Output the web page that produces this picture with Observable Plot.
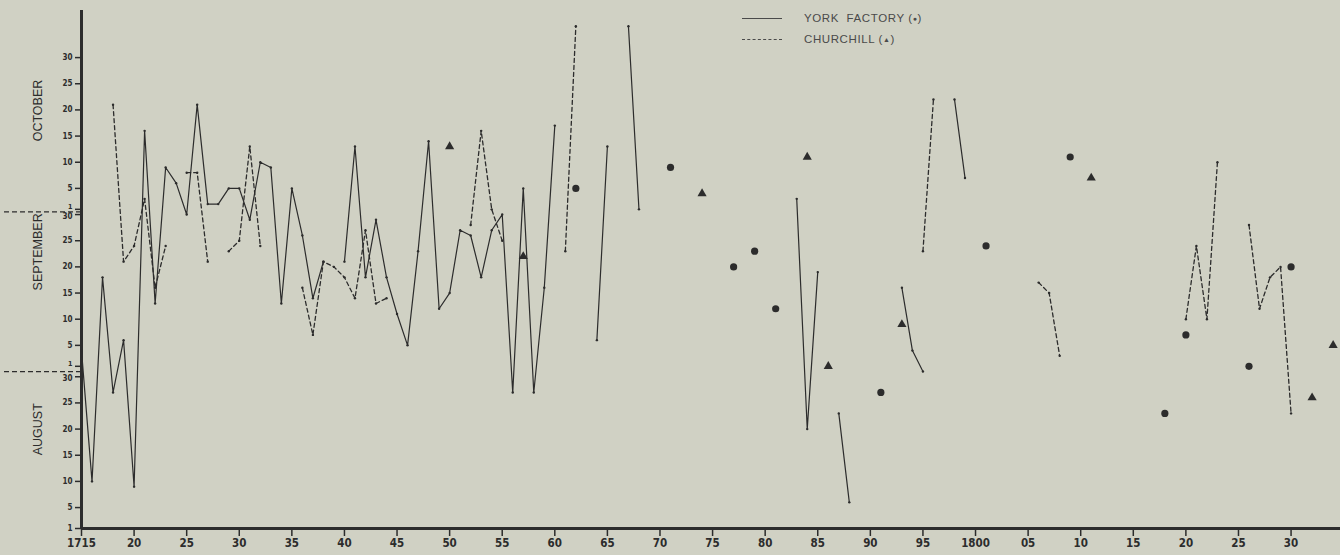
<!DOCTYPE html>
<html>
<head>
<meta charset="utf-8">
<script src="https://cdn.jsdelivr.net/npm/d3@7"></script>
<script src="https://cdn.jsdelivr.net/npm/@observablehq/plot@0.6"></script>
<style>
  html, body { margin: 0; padding: 0; background: #d0d1c4; }
  #wrap { position: relative; width: 1340px; height: 555px; overflow: hidden; }
  .lg-line { position: absolute; left: 742px; width: 40px; height: 0; border-top: 1.2px solid #4a4a4a; }
  .lg-line.dash { border-top-style: dashed; }
  .lg-text { position: absolute; left: 804px; font-family: "Liberation Sans", Arial, sans-serif; font-size: 11.5px;
             letter-spacing: 0.6px; color: #4a4a4a; line-height: 14px; white-space: pre; }
  .lg-text .sym { font-size: 7px; vertical-align: 1px; }
</style>
</head>
<body>
<div id="wrap"></div>
<script>
// Freeze-up / departure dates: day index counted from 1 August (1 = Aug 1, 32 = Sept 1, 62 = Oct 1)
const yorkFactory = [
  [1715,35],[1716,10],[1717,49],[1718,27],[1719,37],[1720,9],[1721,77],[1722,44],[1723,70],[1724,67],
  [1725,61],[1726,82],[1727,63],[1728,63],[1729,66],[1730,66],[1731,60],[1732,71],[1733,70],[1734,44],
  [1735,66],[1736,57],[1737,45],[1738,52],[1739,null],[1740,52],[1741,74],[1742,49],[1743,60],[1744,49],
  [1745,42],[1746,36],[1747,54],[1748,75],[1749,43],[1750,46],[1751,58],[1752,57],[1753,49],[1754,58],
  [1755,61],[1756,27],[1757,66],[1758,27],[1759,47],[1760,78],[1761,null],[1762,66],[1763,null],
  [1764,37],[1765,74],[1766,null],[1767,97],[1768,62],[1769,null],[1771,70],[1772,null],[1777,51],
  [1778,null],[1779,54],[1780,null],[1781,43],[1782,null],[1783,64],[1784,20],[1785,50],[1786,null],
  [1787,23],[1788,6],[1789,null],[1791,27],[1792,null],[1793,47],[1794,35],[1795,31],[1796,null],
  [1798,83],[1799,68],[1800,null],[1801,55],[1802,null],[1809,72],[1810,null],[1818,23],[1819,null],
  [1820,38],[1821,null],[1826,32],[1827,null],[1830,51]
];
const churchill = [
  [1718,82],[1719,52],[1720,55],[1721,64],[1722,47],[1723,55],[1724,null],[1725,69],[1726,69],[1727,52],
  [1728,null],[1729,54],[1730,56],[1731,74],[1732,55],[1733,null],[1736,47],[1737,38],[1738,52],[1739,51],
  [1740,49],[1741,45],[1742,58],[1743,44],[1744,45],[1745,null],[1750,74],[1751,null],[1752,59],[1753,77],
  [1754,62],[1755,56],[1756,null],[1757,53],[1758,null],[1761,54],[1762,97],[1763,null],[1774,65],
  [1775,null],[1784,72],[1785,null],[1786,32],[1787,null],[1793,40],[1794,null],[1795,54],[1796,83],
  [1797,null],[1806,48],[1807,46],[1808,34],[1809,null],[1811,68],[1812,null],[1820,41],[1821,55],
  [1822,41],[1823,71],[1824,null],[1826,59],[1827,43],[1828,49],[1829,51],[1830,23],[1831,null],
  [1832,26],[1833,null],[1834,36]
];

const xTicks = [1715,1720,1725,1730,1735,1740,1745,1750,1755,1760,1765,1770,1775,1780,1785,1790,1795,1800,1805,1810,1815,1820,1825,1830];
const xTickLabels = ["1715","20","25","30","35","40","45","50","55","60","65","70","75","80","85","90","95","1800","05","10","15","20","25","30"];
const yTickDays = [1,5,10,15,20,25,30, 32,36,41,46,51,56,61, 62,66,71,76,81,86,91];
const yTickLabels = ["1","5","10","15","20","25","30", "1","5","10","15","20","25","30", "1","5","10","15","20","25","30"];
const monthNames = ["AUGUST","SEPTEMBER","OCTOBER"];
const monthLabelDays = [15, 46.5, 75];
const monthBoundaries = [31, 61.5];
const monthStartDays = [32, 62];
const monthEndDays = [30, 61];
const legendLabels = ["YORK  FACTORY", "CHURCHILL"];

function prep(arr) {
  return arr.map(([yr, d], i) => ({
    yr, d,
    iso: d != null && (i === 0 || arr[i-1][1] == null) && (i === arr.length - 1 || arr[i+1][1] == null)
  }));
}
const york = prep(yorkFactory);
const chur = prep(churchill);
const ink = "#2c2c2c";
const tickFont = "'Liberation Sans Narrow', 'DejaVu Sans Condensed', 'Liberation Sans', sans-serif";
const yLabel = d => yTickLabels[yTickDays.indexOf(d)];
const yTextOpts = { tickSize: 0, tickPadding: 9, tickFormat: yLabel, fontSize: 8, fontWeight: "bold",
                    fontFamily: tickFont, label: null };

const chart = Plot.plot({
  width: 1340,
  height: 555,
  marginLeft: 81,
  marginRight: 0,
  marginTop: 10,
  marginBottom: 27,
  style: { background: "transparent", color: ink },
  x: { domain: [1715, 1834.7] },
  y: { domain: [1, 100] },
  marks: [
    // axis ticks and labels
    Plot.axisX(xTicks, { tickSize: 8, tickPadding: 2, tickFormat: d => xTickLabels[xTicks.indexOf(d)],
      fontSize: 11.5, fontWeight: "bold", fontFamily: tickFont, label: null, strokeWidth: 1.5 }),
    Plot.axisY(yTickDays, { tickSize: 6, fill: "none", label: null, strokeWidth: 1.5 }),
    Plot.axisY(yTickDays.filter(d => !monthStartDays.includes(d) && !monthEndDays.includes(d)), yTextOpts),
    Plot.axisY(monthStartDays, { ...yTextOpts, dy: -3, fontSize: 7 }),
    Plot.axisY(monthEndDays, { ...yTextOpts, dy: 2 }),
    Plot.axisY(monthBoundaries, { tickSize: 80, fill: "none", label: null, strokeDasharray: "5,3", strokeWidth: 1.2 }),
    // month labels
    Plot.text(monthNames, { y: monthLabelDays, text: d => d, frameAnchor: "left", dx: -44, rotate: -90,
      fontSize: 12.5, fontFamily: "'Liberation Sans', Arial, sans-serif", fill: ink }),
    // main axis lines
    Plot.ruleY([1], { strokeWidth: 3, stroke: ink }),
    Plot.ruleX([1715], { y1: 1, y2: 100, strokeWidth: 3, stroke: ink }),
    // Churchill (dashed)
    Plot.line(chur, { x: "yr", y: "d", stroke: ink, strokeWidth: 1.3, strokeDasharray: "4,3", curve: "linear" }),
    Plot.dot(chur.filter(p => p.d != null && !p.iso), { x: "yr", y: "d", r: 1.2, fill: ink }),
    Plot.dot(chur.filter(p => p.iso), { x: "yr", y: "d", symbol: "triangle", r: 3.4, fill: ink }),
    // York Factory (solid)
    Plot.line(york, { x: "yr", y: "d", stroke: ink, strokeWidth: 1.2, curve: "linear" }),
    Plot.dot(york.filter(p => p.d != null && !p.iso), { x: "yr", y: "d", r: 1.2, fill: ink }),
    Plot.dot(york.filter(p => p.iso), { x: "yr", y: "d", r: 3.6, fill: ink })
  ]
});

const wrap = document.getElementById("wrap");
wrap.appendChild(chart);
wrap.insertAdjacentHTML("beforeend",
  `<div class="lg-line" style="top:18px"></div>
   <div class="lg-text" style="top:11px">${legendLabels[0]} (<span class="sym">●</span>)</div>
   <div class="lg-line dash" style="top:39px"></div>
   <div class="lg-text" style="top:32px">${legendLabels[1]} (<span class="sym">▲</span>)</div>`);
</script>
</body>
</html>
